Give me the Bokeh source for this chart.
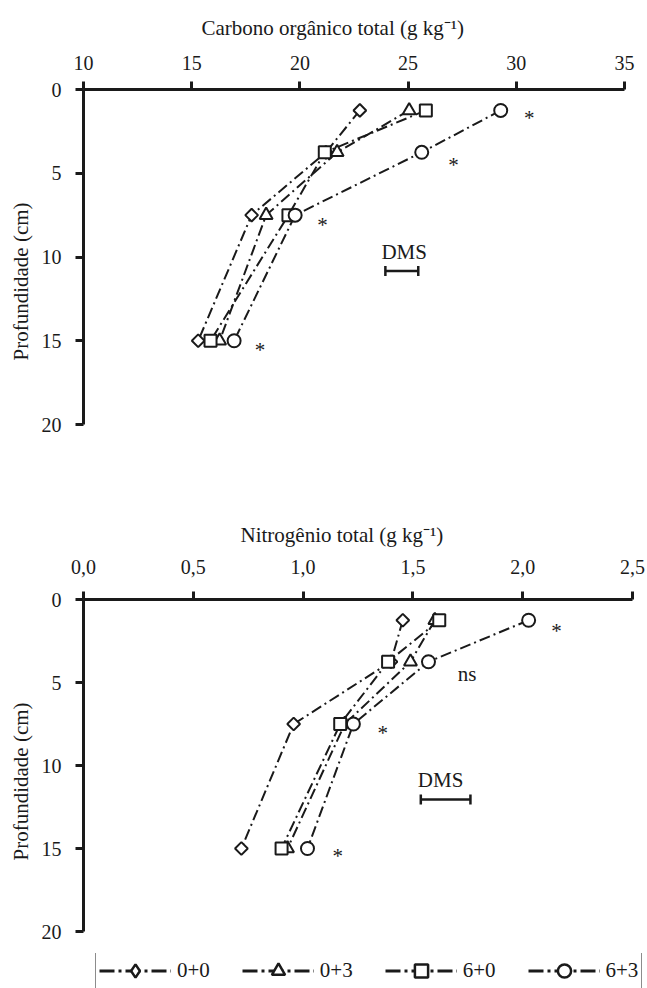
import math
from bokeh.plotting import figure
from bokeh.models import Range1d, FixedTicker, Legend, LegendItem, Title
from bokeh.layouts import column
from bokeh.embed import file_html
from bokeh.resources import INLINE
from bokeh.core.properties import value

# ---------------- data ----------------
depths = [1.25, 3.75, 7.5, 15.0]
treatments = ["0+0", "0+3", "6+0", "6+3"]

# Carbono orgânico total (g kg-1)
cot_00 = [22.77, 21.20, 17.77, 15.30]
cot_03 = [25.05, 21.72, 18.44, 16.29]
cot_60 = [25.82, 21.15, 19.47, 15.87]
cot_63 = [29.28, 25.63, 19.78, 16.96]

# Nitrogênio total (g kg-1)
nt_00 = [1.454, 1.400, 0.957, 0.719]
nt_03 = [1.600, 1.489, 1.190, 0.929]
nt_60 = [1.620, 1.387, 1.169, 0.902]
nt_63 = [2.027, 1.571, 1.229, 1.020]

# significance marks
cot_sig_text = ["*", "*", "*", "*"]
cot_sig_x = [30.60, 27.10, 21.05, 18.16]
cot_sig_y = [1.55, 4.30, 7.90, 15.37]
nt_sig_text = ["*", "ns", "*", "*"]
nt_sig_x = [2.154, 1.747, 1.363, 1.158]
nt_sig_y = [1.71, 4.30, 7.85, 15.30]

# DMS bars
cot_dms = [23.95, 25.47]
cot_dms_y = 10.83
cot_dms_label = (24.82, 9.69)
nt_dms = [1.536, 1.762]
nt_dms_y = 12.05
nt_dms_label = (1.626, 10.87)

# ticks
cot_x_ticks = [10, 15, 20, 25, 30, 35]
cot_x_labels = ["10", "15", "20", "25", "30", "35"]
nt_x_ticks = [0.0, 0.5, 1.0, 1.5, 2.0, 2.5]
nt_x_labels = ["0,0", "0,5", "1,0", "1,5", "2,0", "2,5"]
y_ticks = [0, 5, 10, 15, 20]
y_labels = ["0", "5", "10", "15", "20"]

# ---------------- style ----------------
INK = "#1a1a1a"
FONT = "Liberation Serif"
DASH = "11 4 2 4"
LW = 2.0
marker_specs = {
    "0+0": dict(marker="square", size=9, angle=math.pi / 4),
    "0+3": dict(marker="triangle", size=13, angle=0.0),
    "6+0": dict(marker="square", size=12, angle=0.0),
    "6+3": dict(marker="circle", size=13, angle=0.0),
}
legend_markers = {"0+0": "diamond", "0+3": "triangle", "6+0": "square", "6+3": "circle"}
W = 647


def make_fig(height, b_top, b_bottom, b_right, xr, xticks, xlabels, title,
             title_offset, ylab_offset, tick_standoff, title_standoff):
    p = figure(width=W, height=height,
               x_range=Range1d(*xr), y_range=Range1d(20, 0),
               x_axis_location="above",
               output_backend="svg", toolbar_location=None,
               min_border_left=83, min_border_right=b_right,
               min_border_top=b_top, min_border_bottom=b_bottom)
    p.frame_align = False
    p.outline_line_color = None
    p.grid.visible = False
    p.background_fill_color = "white"
    p.border_fill_color = "white"

    xa = p.xaxis[0]
    ya = p.yaxis[0]
    xa.ticker = FixedTicker(ticks=xticks, minor_ticks=[])
    xa.major_label_overrides = dict(zip(xticks, xlabels))
    ya.ticker = FixedTicker(ticks=y_ticks, minor_ticks=[])
    ya.major_label_overrides = dict(zip(y_ticks, y_labels))
    for ax in (xa, ya):
        ax.axis_line_color = INK
        ax.axis_line_width = 3
        ax.major_tick_line_color = INK
        ax.major_tick_line_width = 3
        ax.major_tick_in = 0
        ax.major_tick_out = 8
        ax.minor_tick_line_color = None
        ax.major_label_text_font = FONT
        ax.major_label_text_font_size = "20px"
        ax.major_label_text_color = INK
    xa.major_label_standoff = tick_standoff
    ya.major_label_standoff = 14

    t_top = Title(text=title, align="left", offset=title_offset, standoff=title_standoff,
                  text_font=FONT, text_font_size="21px", text_font_style="normal",
                  text_color=INK)
    p.add_layout(t_top, "above")
    t_left = Title(text="Profundidade (cm)", align="left", offset=ylab_offset, standoff=11,
                   text_font=FONT, text_font_size="21px", text_font_style="normal",
                   text_color=INK)
    p.add_layout(t_left, "left")
    return p


def draw_series(p, series, legend_style=False):
    line_rs = {}
    for t, xs in zip(treatments, series):
        if legend_style:
            line_rs[t] = p.line(xs, depths, line_color=INK, line_width=3,
                                line_dash="15 4 3 4")
        else:
            line_rs[t] = p.line(xs, depths, line_color=INK, line_width=LW, line_dash=DASH)
    mark_rs = {}
    for t, xs in zip(treatments, series):
        ms = marker_specs[t]
        if legend_style:
            mark_rs[t] = p.scatter(xs, depths, marker=legend_markers[t], size=13,
                                   fill_color="white", line_color=INK, line_width=2.5)
        else:
            mark_rs[t] = p.scatter(xs, depths, marker=ms["marker"], size=ms["size"],
                                   angle=ms["angle"], fill_color="white",
                                   line_color=INK, line_width=LW)
    return line_rs, mark_rs


def draw_notes(p, sig_x, sig_y, sig_text, dms, dms_y, dms_label, cap):
    p.text(sig_x, sig_y, text=sig_text, text_font=value(FONT),
           text_font_size="21px", text_color=INK, text_align="center",
           text_baseline="middle", y_offset=3)
    p.text([dms_label[0]], [dms_label[1]], text=["DMS"], text_font=value(FONT),
           text_font_size="21px", text_color=INK, text_align="center",
           text_baseline="middle")
    p.segment([dms[0]], [dms_y], [dms[1]], [dms_y], line_color=INK, line_width=2.5)
    p.segment(dms, [dms_y - cap] * 2, dms, [dms_y + cap] * 2, line_color=INK, line_width=2.5)


# top panel: page y 0..500, frame 89..424, x 83..624
p1 = make_fig(500, 89, 76, 23, (10, 35), cot_x_ticks, cot_x_labels,
              "Carbono orgânico total (g kg⁻¹)", 118, 64, 12, 25)
draw_series(p1, [cot_00, cot_03, cot_60, cot_63])
draw_notes(p1, cot_sig_x, cot_sig_y, cot_sig_text, cot_dms, cot_dms_y, cot_dms_label, 0.3)

# bottom panel: page y 500..953, frame 599..931, x 83..632
p2 = make_fig(453, 99, 22, 15, (0, 2.5), nt_x_ticks, nt_x_labels,
              "Nitrogênio total (g kg⁻¹)", 157, 71, 18, 20)
draw_series(p2, [nt_00, nt_03, nt_60, nt_63])
draw_notes(p2, nt_sig_x, nt_sig_y, nt_sig_text, nt_dms, nt_dms_y, nt_dms_label, 0.3)

# legend strip: page y 953..988
p3 = figure(width=W, height=35, x_range=Range1d(10, 11), y_range=Range1d(0, 1),
            x_axis_location=None, y_axis_location=None,
            output_backend="svg", toolbar_location=None,
            min_border_left=0, min_border_right=0, min_border_top=0, min_border_bottom=0)
p3.frame_align = False
p3.outline_line_color = None
p3.grid.visible = False
lr, mr = draw_series(p3, [nt_00, nt_03, nt_60, nt_63], legend_style=True)

items = [LegendItem(label=t, renderers=[lr[t], mr[t]]) for t in treatments]
legend = Legend(items=items, orientation="horizontal", location=(95, -3),
                glyph_width=72, glyph_height=33, label_standoff=6, spacing=32,
                padding=3, margin=0, border_line_color=INK, border_line_width=1.2,
                label_text_font=FONT, label_text_font_size="21px",
                label_text_color=INK, background_fill_color="white",
                background_fill_alpha=1.0)
p3.add_layout(legend)

layout = column(p1, p2, p3, spacing=0)
open("out.html", "w").write(file_html(layout, INLINE))
